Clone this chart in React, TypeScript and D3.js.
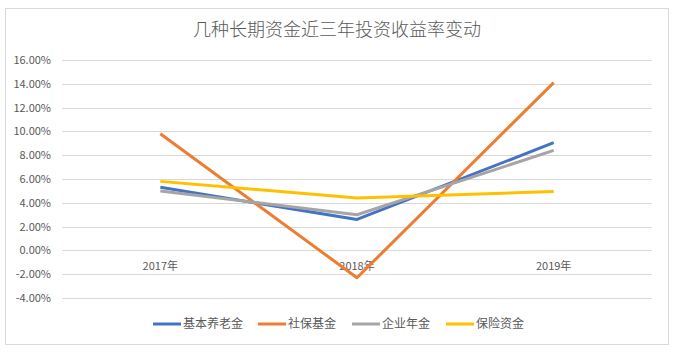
import { useEffect, useRef } from 'react';
import * as d3 from 'd3';

const years = ['2017年', '2018年', '2019年'];
const seriesNames = ['基本养老金', '社保基金', '企业年金', '保险资金'];
const pension = [5.3, 2.6, 9.05];
const ssf = [9.8, -2.3, 14.1];
const annuity = [5.0, 3.0, 8.4];
const insurance = [5.8, 4.4, 4.95];
const colors = ['#4472c4', '#ed7d31', '#a5a5a5', '#ffc000'];
const yTicks = [-4, -2, 0, 2, 4, 6, 8, 10, 12, 14, 16];

const W = 674;
const H = 352;
const margin = { left: 62, right: 22, top: 60, bottom: 54 };

export default function App() {
  const ref = useRef<SVGSVGElement>(null);

  useEffect(() => {
    document.body.style.margin = '0';
    const svg = d3.select(ref.current);
    svg.selectAll('*').remove();

    const font = '"Noto Sans CJK SC", "Noto Sans", sans-serif';
    const values = [pension, ssf, annuity, insurance];

    svg.append('rect')
      .attr('x', 5.5).attr('y', 8.5)
      .attr('width', 663).attr('height', 336)
      .attr('fill', '#fff').attr('stroke', '#d9d9d9');

    svg.append('text')
      .attr('x', W / 2).attr('y', 36)
      .attr('text-anchor', 'middle')
      .attr('font-family', font).attr('font-size', 18)
      .attr('font-weight', 300)
      .attr('fill', '#595959')
      .text('几种长期资金近三年投资收益率变动');

    const x = d3.scaleBand()
      .domain(years)
      .range([margin.left, W - margin.right]);

    const y = d3.scaleLinear()
      .domain([-4, 16])
      .range([H - margin.bottom, margin.top]);

    const grid = svg.append('g');
    grid.selectAll('line')
      .data(yTicks)
      .enter()
      .append('line')
      .attr('x1', margin.left).attr('x2', W - margin.right)
      .attr('y1', d => Math.round(y(d)) + 0.5).attr('y2', d => Math.round(y(d)) + 0.5)
      .attr('stroke', '#d9d9d9');

    grid.selectAll('text')
      .data(yTicks)
      .enter()
      .append('text')
      .attr('x', 51).attr('y', d => y(d) + 4)
      .attr('text-anchor', 'end')
      .attr('font-family', font).attr('font-size', 11)
      .attr('fill', '#595959')
      .text(d => d.toFixed(2) + '%');

    svg.append('g')
      .selectAll('text')
      .data(years)
      .enter()
      .append('text')
      .attr('x', d => x(d)! + x.bandwidth() / 2)
      .attr('y', y(0) + 20)
      .attr('text-anchor', 'middle')
      .attr('font-family', font).attr('font-size', 11)
      .attr('fill', '#595959')
      .text(d => d);

    const line = d3.line<number>()
      .x((_, i) => x(years[i])! + x.bandwidth() / 2)
      .y(d => y(d));

    svg.append('g')
      .selectAll('path')
      .data(values)
      .enter()
      .append('path')
      .attr('d', d => line(d))
      .attr('fill', 'none')
      .attr('stroke', (_, i) => colors[i])
      .attr('stroke-width', 3)
      .attr('stroke-linejoin', 'round');

    // legend
    let lx = 153;
    const legend = svg.append('g');
    seriesNames.forEach((name, i) => {
      legend.append('line')
        .attr('x1', lx).attr('x2', lx + 28)
        .attr('y1', 324).attr('y2', 324)
        .attr('stroke', colors[i]).attr('stroke-width', 3);
      legend.append('text')
        .attr('x', lx + 30).attr('y', 328)
        .attr('font-family', font).attr('font-size', 12)
        .attr('fill', '#595959')
        .text(name);
      lx += 50 + name.length * 11;
    });
  }, []);

  return <svg ref={ref} width={W} height={H} style={{ display: 'block' }} />;
}
